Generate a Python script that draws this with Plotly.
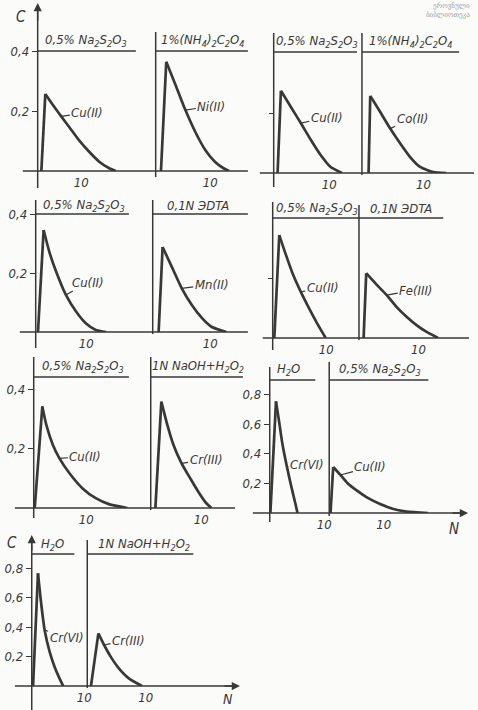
import plotly.graph_objects as go

W, H = 478, 710
INK = "#383838"
PAPER = "#fbfbf9"
FONT = "DejaVu Sans Condensed, DejaVu Sans, sans-serif"

# ---- elution curves: fraction number N vs. concentration C ----
a1_cu_n = [0.84, 1.75, 3.5, 5.4, 7.3, 9.5, 11.8, 14.1, 16.4, 17.9]
a1_cu_c = [0.0, 0.257, 0.22, 0.182, 0.145, 0.102, 0.064, 0.031, 0.009, 0.0]
a2_ni_n = [0.97, 1.94, 3.64, 5.45, 7.27, 9.09, 10.9, 12.36, 13.45]
a2_ni_c = [0.0, 0.364, 0.287, 0.203, 0.13, 0.07, 0.03, 0.01, 0.0]

b1_cu_n = [0.7, 1.3, 3.1, 4.9, 6.7, 8.45, 10.2, 12.3]
b1_cu_c = [0.0, 0.274, 0.22, 0.166, 0.11, 0.06, 0.021, 0.0]
b2_co_n = [1.08, 1.35, 2.95, 4.6, 6.2, 7.8, 9.4, 11.6, 13.7]
b2_co_c = [0.0, 0.257, 0.204, 0.148, 0.099, 0.054, 0.021, 0.003, 0.0]

c1_cu_n = [0.45, 1.57, 2.75, 4.05, 6.0, 7.98, 9.9, 11.9, 13.9]
c1_cu_c = [0.0, 0.348, 0.27, 0.206, 0.126, 0.07, 0.03, 0.007, 0.0]
c2_mn_n = [1.03, 1.72, 3.3, 5.05, 6.8, 8.5, 10.2, 12.8]
c2_mn_c = [0.0, 0.29, 0.223, 0.149, 0.092, 0.049, 0.018, 0.0]

d1_cu_n = [0.3, 1.23, 2.47, 3.7, 5.25, 6.8, 8.3, 9.9]
d1_cu_c = [0.0, 0.343, 0.277, 0.216, 0.154, 0.099, 0.049, 0.0]
d2_fe_n = [0.78, 1.22, 3.0, 4.67, 6.3, 8.0, 9.67, 11.3, 13.3]
d2_fe_c = [0.0, 0.216, 0.177, 0.143, 0.104, 0.071, 0.043, 0.021, 0.0]

e1_cu_n = [0.19, 1.64, 2.4, 3.65, 4.9, 6.8, 9.3, 11.8, 14.3, 17.8]
e1_cu_c = [0.0, 0.342, 0.28, 0.212, 0.167, 0.117, 0.066, 0.033, 0.013, 0.0]
e2_cr_n = [0.92, 2.1, 3.2, 4.5, 6.1, 7.8, 9.4, 11.0, 12.0]
e2_cr_c = [0.0, 0.358, 0.285, 0.212, 0.15, 0.1, 0.055, 0.016, 0.0]

f1_cr_n = [0.12, 1.15, 1.76, 2.36, 3.15, 3.88, 4.6, 5.1]
f1_cr_c = [0.0, 0.754, 0.607, 0.459, 0.313, 0.191, 0.079, 0.0]
f2_cu_n = [0.24, 0.73, 2.06, 3.27, 5.09, 6.9, 9.33, 11.76, 14.18, 18.1]
f2_cu_c = [0.0, 0.311, 0.257, 0.205, 0.151, 0.106, 0.061, 0.027, 0.009, 0.0]

g1_cr_n = [0.25, 1.19, 1.83, 2.45, 3.4, 4.34, 5.28, 6.0]
g1_cr_c = [0.0, 0.764, 0.549, 0.38, 0.233, 0.131, 0.052, 0.0]
g2_cr_n = [0.63, 1.9, 2.88, 4.0, 5.4, 7.1, 9.35]
g2_cr_c = [0.0, 0.357, 0.278, 0.199, 0.12, 0.052, 0.0]

# ---- tick labels ----
c_ticks_low = [0.2, 0.4]
c_ticks_low_text = ["0,2", "0,4"]
c_ticks_high = [0.2, 0.4, 0.6, 0.8]
c_ticks_high_text = ["0,2", "0,4", "0,6", "0,8"]
n_ticks = [10]
n_ticks_text = ["10"]

# ---- eluent headers ----
NA2S2O3 = "0,5% Na<sub>2</sub>S<sub>2</sub>O<sub>3</sub>"
OXALATE = "1%(NH<sub>4</sub>)<sub>2</sub>C<sub>2</sub>O<sub>4</sub>"
EDTA = "0,1N ЭDTA"
NAOH = "1N NaOH+H<sub>2</sub>O<sub>2</sub>"
WATER = "H<sub>2</sub>O"


def fx(px):
    return px / W


def fy(py):
    return 1 - py / H


# sub-panel geometry (pixels): origin x0, right end x1, px per fraction,
# baseline yb, top yt, px per unit C; y-tick style
panels = [
    dict(n=a1_cu_n, c=a1_cu_c, name="Cu(II)", k=3, ax=26, ay=-4,
         x0=38, x1=150, ppn=4.4, yb=171, yt=40, ppc=300, yk="low"),
    dict(n=a2_ni_n, c=a2_ni_c, name="Ni(II)", k=3, ax=26, ay=-4,
         x0=157, x1=250, ppn=5.5, yb=171, yt=40, ppc=300, yk=None),
    dict(n=b1_cu_n, c=b1_cu_c, name="Cu(II)", k=3, ax=26, ay=-6,
         x0=276, x1=362, ppn=5.6, yb=173, yt=40, ppc=300, yk="mark"),
    dict(n=b2_co_n, c=b2_co_c, name="Co(II)", k=3, ax=22, ay=-10,
         x0=365, x1=470, ppn=6.2, yb=173, yt=40, ppc=300, yk=None),
    dict(n=c1_cu_n, c=c1_cu_c, name="Cu(II)", k=4, ax=22, ay=-13,
         x0=36, x1=150, ppn=5.1, yb=332, yt=205, ppc=293, yk="low"),
    dict(n=c2_mn_n, c=c2_mn_c, name="Mn(II)", k=3, ax=30, ay=-4,
         x0=154, x1=250, ppn=5.8, yb=332, yt=205, ppc=293, yk=None),
    dict(n=d1_cu_n, c=d1_cu_c, name="Cu(II)", k=4, ax=22, ay=-4,
         x0=275, x1=360, ppn=5.4, yb=338, yt=210, ppc=300, yk="mark"),
    dict(n=d2_fe_n, c=d2_fe_c, name="Fe(III)", k=3, ax=29, ay=-5,
         x0=362, x1=470, ppn=6.0, yb=338, yt=210, ppc=300, yk=None),
    dict(n=e1_cu_n, c=e1_cu_c, name="Cu(II)", k=4, ax=26, ay=-2,
         x0=34, x1=150, ppn=5.3, yb=508, yt=370, ppc=297, yk="low"),
    dict(n=e2_cr_n, c=e2_cr_c, name="Cr(III)", k=4, ax=24, ay=-4,
         x0=152, x1=245, ppn=5.1, yb=508, yt=370, ppc=297, yk=None),
    dict(n=f1_cr_n, c=f1_cr_c, name="Cr(VI)", k=4, ax=20, ay=-2,
         x0=272, x1=330, ppn=5.5, yb=513, yt=375, ppc=148, yk="high"),
    dict(n=f2_cu_n, c=f2_cu_c, name="Cu(II)", k=2, ax=30, ay=-8,
         x0=332, x1=470, ppn=5.5, yb=513, yt=375, ppc=148, yk=None),
    dict(n=g1_cr_n, c=g1_cr_c, name="Cr(VI)", k=3, ax=22, ay=8,
         x0=32, x1=88, ppn=5.3, yb=686, yt=548, ppc=147.5, yk="high"),
    dict(n=g2_cr_n, c=g2_cr_c, name="Cr(III)", k=2, ax=24, ay=-5,
         x0=88, x1=240, ppn=5.9, yb=686, yt=548, ppc=147.5, yk=None),
]

fig = go.Figure()
layout_axes = {}
annotations = []
italic = dict(family=FONT, color=INK, style="italic")

for i, p in enumerate(panels, start=1):
    sfx = "" if i == 1 else str(i)
    xref, yref = "x" + sfx, "y" + sfx
    n, c = p["n"], p["c"]
    pk = c.index(max(c))
    # sharp front: straight rise to the maximum
    fig.add_trace(go.Scatter(x=n[:pk + 1], y=c[:pk + 1], mode="lines",
                             line=dict(color=INK, width=2.7),
                             xaxis=xref, yaxis=yref, showlegend=False,
                             hoverinfo="skip"))
    # diffuse tail
    fig.add_trace(go.Scatter(x=n[pk:], y=c[pk:], mode="lines",
                             line=dict(color=INK, width=2.7, shape="spline",
                                       smoothing=0.6),
                             xaxis=xref, yaxis=yref, showlegend=False,
                             name=p["name"]))

    layout_axes["xaxis" + sfx] = dict(
        domain=[fx(p["x0"]), fx(p["x1"])],
        range=[0, (p["x1"] - p["x0"]) / p["ppn"]],
        anchor=yref, showgrid=False, zeroline=False, showline=False,
        tickvals=n_ticks, ticktext=n_ticks_text, ticks="",
        ticklabelstandoff=2,
        tickfont=dict(size=13, **italic),
    )
    yax = dict(
        domain=[fy(p["yb"]), fy(p["yt"])],
        range=[0, (p["yb"] - p["yt"]) / p["ppc"]],
        anchor=xref, showgrid=False, zeroline=False, showline=False,
        tickfont=dict(size=13, **italic),
    )
    if p["yk"] == "low":
        yax.update(tickvals=c_ticks_low, ticktext=c_ticks_low_text,
                   ticks="outside", ticklen=5, tickwidth=1.3, tickcolor=INK)
    elif p["yk"] == "high":
        yax.update(tickvals=c_ticks_high, ticktext=c_ticks_high_text,
                   ticks="outside", ticklen=5, tickwidth=1.3, tickcolor=INK)
    elif p["yk"] == "mark":
        yax.update(tickvals=[c_ticks_low[0]], ticks="outside", ticklen=4,
                   tickwidth=1.2, tickcolor=INK, showticklabels=False)
    else:
        yax.update(showticklabels=False, ticks="")
    layout_axes["yaxis" + sfx] = yax

    k = p["k"]
    annotations.append(dict(
        x=n[k], y=c[k], xref=xref, yref=yref, text=p["name"],
        showarrow=True, arrowhead=0, arrowwidth=1.2, arrowcolor=INK,
        ax=p["ax"], ay=p["ay"], standoff=0,
        font=dict(size=13, **italic),
    ))

# frame lines of each block: verticals, eluent header bars, baselines
frame = [
    (38, 8, 38, 188), (157, 32, 157, 177), (38, 51, 137, 51),
    (157, 51, 250, 51), (23, 171, 250, 171),
    (276, 33, 276, 187), (365, 33, 365, 175), (276, 52, 360, 52),
    (365, 52, 463, 52), (262, 173, 478, 173),
    (36, 200, 36, 348), (154, 200, 154, 334), (36, 214, 130, 214),
    (154, 214, 250, 214), (20, 332, 250, 332),
    (275, 202, 275, 350), (362, 205, 362, 340), (275, 218, 447, 218),
    (265, 338, 473, 338),
    (34, 357, 34, 518), (152, 357, 152, 510), (34, 377, 130, 377),
    (152, 377, 245, 377), (15, 508, 237, 508),
    (272, 367, 272, 522), (332, 362, 332, 516), (272, 380, 318, 380),
    (332, 380, 432, 380), (255, 513, 466, 513),
    (32, 540, 32, 710), (88, 540, 88, 688), (32, 554, 75, 554),
    (88, 554, 195, 554), (15, 686, 236, 686),
]
shapes = [dict(type="line", xref="paper", yref="paper",
               x0=fx(a), y0=fy(b), x1=fx(c), y1=fy(d),
               line=dict(color=INK, width=1.5)) for a, b, c, d in frame]

# axis arrowheads (tip, tail)
arrows = [((38, 3), (38, 22)), ((32, 535), (32, 552)),
          ((472, 513), (455, 513)), ((242, 686), (225, 686))]
for (tx, ty), (sx, sy) in arrows:
    annotations.append(dict(
        x=fx(tx), y=fy(ty), xref="paper", yref="paper", text="",
        showarrow=True, arrowhead=2, arrowsize=1.1, arrowwidth=1.5,
        arrowcolor=INK, ax=sx - tx, ay=sy - ty, standoff=0,
    ))

# eluent headers, axis letters
texts = [
    (NA2S2O3, 87, 40, 13), (OXALATE, 205, 40, 13),
    (NA2S2O3, 320, 41, 13), (OXALATE, 414, 41, 13),
    (NA2S2O3, 85, 205, 13), (EDTA, 200, 205, 13),
    (NA2S2O3, 320, 208, 13), (EDTA, 404, 208, 13),
    (NA2S2O3, 84, 366, 13), (NAOH, 200, 366, 13),
    (WATER, 291, 369, 13), (NA2S2O3, 383, 369, 13),
    (WATER, 53, 544, 13), (NAOH, 145, 544, 13),
    ("C", 21, 17, 15), ("C", 12, 543, 15),
    ("N", 458, 529, 15), ("N", 230, 699, 14),
]
for t, x, y, s in texts:
    annotations.append(dict(
        x=fx(x), y=fy(y), xref="paper", yref="paper", text=t,
        showarrow=False, xanchor="center", yanchor="middle",
        font=dict(size=s, **italic),
    ))

# library stamp in the corner
for t, y in [("ეროვნული", 6), ("ბიბლიოთეკა", 15)]:
    annotations.append(dict(
        x=fx(476), y=fy(y), xref="paper", yref="paper", text=t,
        showarrow=False, xanchor="right", yanchor="middle",
        font=dict(size=7, family="DejaVu Sans", color="#9c9c9c"),
    ))

fig.update_layout(
    width=W, height=H, autosize=False,
    margin=dict(l=0, r=0, t=0, b=0),
    paper_bgcolor=PAPER, plot_bgcolor="rgba(0,0,0,0)",
    shapes=shapes, annotations=annotations,
    showlegend=False,
    **layout_axes,
)

fig.write_html("out.html")
